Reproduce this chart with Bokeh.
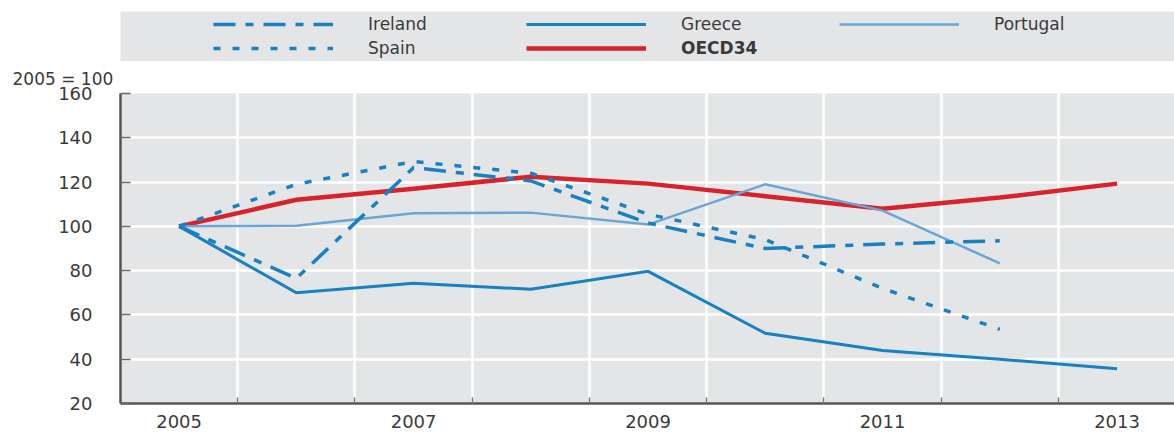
from bokeh.plotting import figure
from bokeh.models import Range1d, FixedTicker, LinearAxis, Legend, LegendItem
from bokeh.layouts import column
from bokeh.embed import file_html
from bokeh.resources import INLINE

nan = float("nan")

# ---- data (index, 2005 = 100) ----
years = [2005, 2006, 2007, 2008, 2009, 2010, 2011, 2012, 2013]
ireland = [100, 76.5, 126.5, 120.5, 101.5, 90.0, 92.0, 93.5, nan]
greece = [100, 70.0, 74.3, 71.6, 79.7, 51.7, 43.9, 40.0, 35.7]
portugal = [100, 100.3, 105.9, 106.2, 100.8, 119.0, 107.1, 83.3, nan]
spain = [100, 119.0, 129.3, 124.0, 105.5, 94.0, 72.0, 53.5, nan]
oecd34 = [100, 112.0, 117.0, 122.4, 119.3, 113.6, 108.0, 113.0, 119.3]

labelled_years = [2005, 2007, 2009, 2011, 2013]
y_ticks = [20, 40, 60, 80, 100, 120, 140, 160]
unit_label = "2005 = 100"

# ---- styles ----
FONT = "DejaVu Sans"
FS = "17px"
TFS = "18px"
TXT = "#3a3a3a"
BG = "#e4e5e7"
BLUE = "#1781c4"
LBLUE = "#68a5d8"
RED = "#d8232c"

series = [
    ("OECD34", oecd34, dict(line_color=RED, line_width=4.5, line_dash="solid")),
    ("Greece", greece, dict(line_color=BLUE, line_width=3, line_dash="solid")),
    ("Portugal", portugal, dict(line_color=LBLUE, line_width=2.5, line_dash="solid")),
    ("Spain", spain, dict(line_color=BLUE, line_width=3.5, line_dash="7 12")),
    ("Ireland", ireland, dict(line_color=BLUE, line_width=3.5, line_dash="22 10 8 10")),
]

W = 1174

# ---- legend band (its frame is the grey band; the series lie outside its ranges) ----
lf = figure(width=W, height=61, x_range=Range1d(0, 1), y_range=Range1d(0, 1),
            output_backend="svg", toolbar_location=None,
            x_axis_location=None, y_axis_location=None,
            min_border_left=120, min_border_right=0, min_border_top=11, min_border_bottom=0,
            background_fill_color=BG, border_fill_color="white", outline_line_color=None)
lf.grid.visible = False

legend_r = {}
for name, vals, style in series:
    legend_r[name] = lf.line(x=years, y=vals, line_cap="butt", **style)

def make_legend(names, loc, bold=False, ncols=1):
    lg = Legend(items=[LegendItem(label=n, renderers=[legend_r[n]]) for n in names],
                location=loc, orientation="horizontal", ncols=ncols,
                glyph_width=120, glyph_height=20, label_height=20, label_width=154,
                label_standoff=35, spacing=4, padding=0, margin=0,
                label_text_font=FONT, label_text_font_size=FS, label_text_color=TXT,
                label_text_font_style="bold" if bold else "normal",
                background_fill_alpha=0, border_line_color=None)
    lf.add_layout(lg, "center")

make_legend(["Ireland", "Greece", "Portugal", "Spain"], (93, 3), ncols=3)
make_legend(["OECD34"], (406, 3), bold=True)

# ---- main chart ----
p = figure(width=W, height=374, x_range=Range1d(2004.5, 2013.49), y_range=Range1d(20, 160),
           output_backend="svg", toolbar_location=None,
           min_border_left=120, min_border_right=0, min_border_top=32, min_border_bottom=32,
           background_fill_color=BG, border_fill_color="white", outline_line_color=None)

p.title.text = unit_label
p.title.align = "left"
p.title.offset = -108
p.title.standoff = 10
p.title.text_font = FONT
p.title.text_font_size = FS
p.title.text_font_style = "normal"
p.title.text_color = TXT

half_ticks = [y + 0.5 for y in years[:-1]]

for name, vals, style in series:
    p.line(x=years, y=vals, line_cap="butt", line_join="miter", **style)

# y axis
ya = p.yaxis[0]
ya.ticker = FixedTicker(ticks=y_ticks)
ya.major_tick_in = 10
ya.major_tick_out = 0
ya.minor_tick_line_color = None
ya.major_tick_line_color = "#666666"
ya.major_tick_line_width = 1.5
ya.axis_line_color = "#555555"
ya.axis_line_width = 2.5
ya.major_label_standoff = 28
ya.major_label_text_font = FONT
ya.major_label_text_font_size = TFS
ya.major_label_text_color = TXT

# x axis with tick marks between years (no labels)
xa = p.xaxis[0]
xa.ticker = FixedTicker(ticks=half_ticks)
xa.major_label_overrides = {t: "" for t in half_ticks}
xa.major_label_text_font_size = "0px"
xa.major_label_standoff = 0
xa.major_tick_in = 6
xa.major_tick_out = 0
xa.minor_tick_line_color = None
xa.major_tick_line_color = "#777777"
xa.major_tick_line_width = 1.5
xa.axis_line_color = "#555555"
xa.axis_line_width = 2.5

# x axis with year labels
xl = LinearAxis(ticker=FixedTicker(ticks=labelled_years),
                axis_line_color=None, major_tick_line_color=None, minor_tick_line_color=None,
                major_tick_in=0, major_tick_out=0, major_label_standoff=11,
                major_label_text_font=FONT, major_label_text_font_size=TFS,
                major_label_text_color=TXT)
p.add_layout(xl, "below")

p.xgrid.ticker = FixedTicker(ticks=half_ticks)
p.ygrid.ticker = FixedTicker(ticks=y_ticks)
p.grid.grid_line_color = "white"
p.grid.grid_line_width = 2.5

layout = column(lf, p, spacing=0)
open("out.html", "w").write(file_html(layout, INLINE))
